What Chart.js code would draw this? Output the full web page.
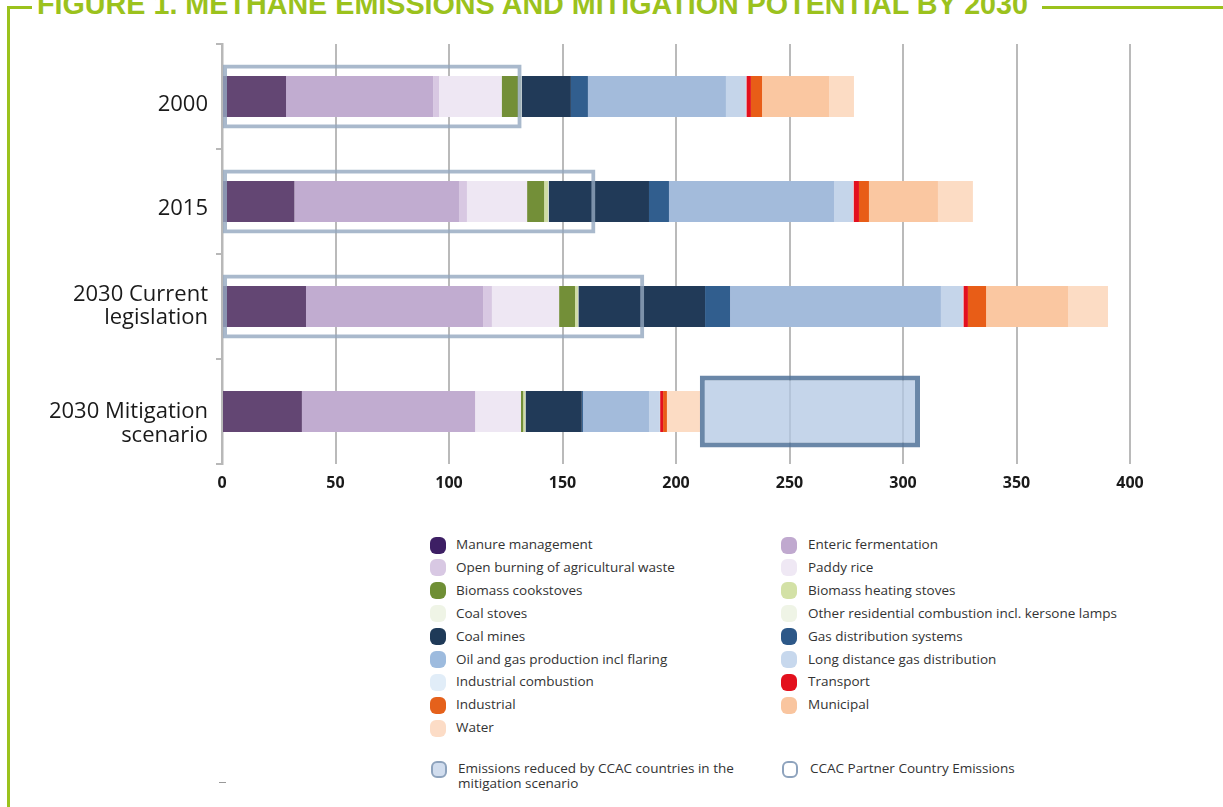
<!DOCTYPE html>
<html>
<head>
<meta charset="utf-8">
<script src="https://cdn.jsdelivr.net/npm/chart.js@4.4.1/dist/chart.umd.min.js"></script>
<style>
  html, body { margin:0; padding:0; background:#fff; width:1223px; height:807px; overflow:hidden; position:relative; font-family:"Open Sans", sans-serif; }
  #c { position:absolute; left:0; top:0; }
  .frame { position:absolute; background:#9bc21d; }
  #title { position:absolute; left:37px; top:-12px; font-family:"Liberation Sans", sans-serif; font-weight:bold; font-size:30px; line-height:31px; color:#9bc21d; white-space:nowrap; transform-origin:0 0; }
  .mk { position:absolute; width:16px; height:17px; border-radius:6px; box-sizing:border-box; }
  .lt { position:absolute; font-size:13.5px; line-height:15px; color:#333; white-space:nowrap; }
</style>
</head>
<body>
<div class="frame" style="left:7px;top:6px;width:25px;height:2.5px;"></div>
<div class="frame" style="left:7px;top:6px;width:2.5px;height:801px;"></div>
<div class="frame" style="left:1042px;top:6px;width:181px;height:2.5px;"></div>
<div id="title">FIGURE 1. METHANE EMISSIONS AND MITIGATION POTENTIAL BY 2030</div>
<canvas id="c" width="1223" height="500"></canvas>
<div id="legend"></div>
<div style="position:absolute;left:219px;top:782px;width:7px;height:1px;background:#999;"></div>
<script>
// ---- data ----
const categories = [["2000"], ["2015"], ["2030 Current", "legislation"], ["2030 Mitigation", "scenario"]];
const seriesNames = ["Manure management", "Enteric fermentation", "Open burning of agricultural waste", "Paddy rice",
  "Biomass cookstoves", "Biomass heating stoves", "Coal stoves", "Other residential combustion incl. kersone lamps",
  "Coal mines", "Gas distribution systems", "Oil and gas production incl flaring", "Long distance gas distribution",
  "Industrial combustion", "Transport", "Industrial", "Municipal", "Water"];
const manure               = [28.2, 31.9, 37.0, 35.2];
const enteric              = [64.8, 72.5, 78.0, 76.3];
const openBurning          = [2.6, 3.5, 3.9, 0];
const paddyRice            = [27.6, 26.5, 29.6, 20.2];
const biomassCookstoves    = [7.2, 7.5, 7.0, 1.0];
const biomassHeating       = [1.3, 1.7, 1.3, 0.8];
const coalStoves           = [0.2, 0.2, 0.1, 0.1];
const otherResidential     = [0.1, 0.1, 0.1, 0.1];
const coalMines            = [21.7, 44.2, 55.8, 24.8];
const gasDistribution      = [7.5, 8.8, 11.0, 0.5];
const oilGas               = [60.8, 72.7, 92.9, 29.1];
const longDistance         = [8.8, 8.4, 9.7, 4.8];
const industrialCombustion = [0.2, 0.2, 0.2, 0.1];
const transport            = [2.0, 2.4, 2.0, 1.3];
const industrial           = [4.9, 4.4, 8.0, 1.7];
const municipal            = [29.5, 30.4, 36.1, 0];
const water                = [11.0, 15.4, 17.6, 14.6];
const partnerEmissions     = [132, 164.5, 186, null];
const reducedByCCAC        = [null, null, null, [210.5, 307.5]];
const xMin = 0, xMax = 400, xStep = 50;
const extraLegendNames = ["Emissions reduced by CCAC countries in the\nmitigation scenario", "CCAC Partner Country Emissions"];

// ---- styles ----
const seriesValues = [manure, enteric, openBurning, paddyRice, biomassCookstoves, biomassHeating, coalStoves,
  otherResidential, coalMines, gasDistribution, oilGas, longDistance, industrialCombustion, transport, industrial, municipal, water];
const barColors = ["#634673", "#c1acd0", "#d8c8e2", "#eee7f3", "#738f38", "#cfdca5", "#eef3e4", "#eef3e4",
  "#213a58", "#315e8e", "#a3bbdb", "#c5d5ea", "#e2edf8", "#e3101e", "#e85d17", "#fac7a1", "#fcdcc4"];
const legendColors = ["#3d1f64", "#c0a9cf", "#d8c8e3", "#efe8f4", "#6f8f35", "#d3e1a6", "#eff4e6", "#eff4e6",
  "#1f3a58", "#2d5888", "#9dbbde", "#c7d8ed", "#e1edf8", "#e3101d", "#e5611b", "#f9c59f", "#fcdcc6"];
const yLabelLead = [1, 1, 0, 1];
const yLabelLineHeight = [15.6, 15, 23, 24];

const datasets = seriesNames.map((name, i) => ({
  label: name,
  data: seriesValues[i],
  backgroundColor: barColors[i],
  borderWidth: 0,
  grouped: false,
  barPercentage: 0.39,
  categoryPercentage: 1.0
}));
datasets.push({
  label: extraLegendNames[1],
  data: partnerEmissions,
  stack: 'partner',
  backgroundColor: 'rgba(0,0,0,0)',
  borderColor: 'rgba(148,168,191,0.8)',
  borderWidth: 4,
  borderSkipped: false,
  grouped: false,
  barPercentage: 0.61,
  categoryPercentage: 1.0,
  order: -1
});
datasets.push({
  label: extraLegendNames[0],
  data: reducedByCCAC,
  stack: 'reduced',
  backgroundColor: 'rgba(178,199,227,0.75)',
  borderColor: 'rgba(80,114,153,0.85)',
  borderWidth: 5,
  borderSkipped: false,
  grouped: false,
  barPercentage: 0.686,
  categoryPercentage: 1.0,
  order: -2
});

new Chart(document.getElementById('c'), {
  type: 'bar',
  data: { labels: categories, datasets },
  options: {
    indexAxis: 'y',
    responsive: false,
    animation: false,
    layout: { padding: { left: 0, right: 93, top: 44, bottom: 0 } },
    plugins: { legend: { display: false }, tooltip: { enabled: false } },
    scales: {
      x: {
        stacked: true, min: xMin, max: xMax,
        afterFit: s => { s.height = 36; },
        border: { display: false },
        grid: { color: '#bababa', lineWidth: 2, drawTicks: false },
        ticks: { stepSize: xStep, padding: 10, color: '#1a1a1a', font: { family: 'Open Sans', size: 16, weight: 'bold' } }
      },
      y: {
        stacked: true,
        afterFit: s => { s.width = 222; },
        border: { display: true, color: '#b8b8b8', width: 2.5 },
        grid: { drawOnChartArea: false, drawTicks: true, tickLength: 6, color: '#b8b8b8', lineWidth: 2 },
        ticks: {
          padding: 8, color: '#1a1a1a',
          callback: function (v, i) {
            const l = this.getLabelForValue(v);
            const arr = Array.isArray(l) ? l : [l];
            return yLabelLead[i] ? [''].concat(arr) : arr;
          },
          font: ctx => ({ family: 'Open Sans', size: 22, lineHeight: yLabelLineHeight[ctx.index] + 'px' })
        }
      }
    }
  }
});

// ---- title fit ----
const title = document.getElementById('title');
title.style.transform = 'scaleX(' + (991 / title.getBoundingClientRect().width) + ')';

// ---- HTML legend ----
const lg = document.getElementById('legend');
const colX = [[430, 456], [781, 808]];
function addItem(mx, tx, cy, style, text) {
  const m = document.createElement('div');
  m.className = 'mk';
  m.style.left = mx + 'px';
  m.style.top = (cy - 8.5) + 'px';
  Object.assign(m.style, style);
  lg.appendChild(m);
  const t = document.createElement('div');
  t.className = 'lt';
  t.style.left = tx + 'px';
  t.style.top = (cy - 8) + 'px';
  t.innerText = text;
  lg.appendChild(t);
}
seriesNames.forEach((name, i) => {
  const col = i % 2, row = Math.floor(i / 2);
  addItem(colX[col][0], colX[col][1], 545 + row * 22.9, { background: legendColors[i] }, name);
});
addItem(431, 458, 769, { background: '#d1ddee', border: '2px solid #8ea3bd' }, extraLegendNames[0]);
addItem(782, 810, 769, { background: '#fff', border: '2px solid #8ea3bd' }, extraLegendNames[1]);
</script>
</body>
</html>
